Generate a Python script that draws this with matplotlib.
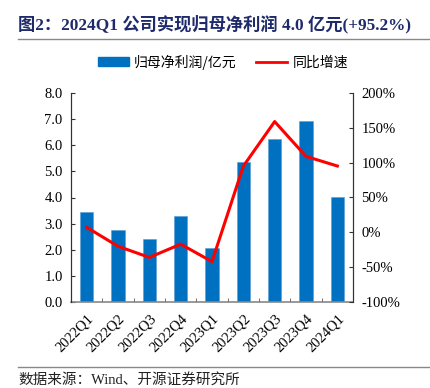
import matplotlib
matplotlib.use("Agg")
import matplotlib.pyplot as plt
from matplotlib.lines import Line2D
from matplotlib.patches import Patch
from matplotlib.ticker import FuncFormatter, MultipleLocator

plt.rcParams["font.family"] = ["Liberation Serif", "Noto Sans CJK SC"]

quarters = ["2022Q1", "2022Q2", "2022Q3", "2022Q4", "2023Q1",
            "2023Q2", "2023Q3", "2023Q4", "2024Q1"]
profit = [3.45, 2.77, 2.40, 3.31, 2.07, 5.36, 6.23, 6.93, 4.01]   # 亿元
yoy = [7.2, -20.0, -36.0, -17.0, -42.0, 95.0, 159.0, 109.0, 95.2]  # %

BLUE = "#0070C0"
RED = "#FF0000"
NAVY = "#1F2A6B"

fig = plt.figure(figsize=(4.31, 3.88), dpi=100, facecolor="white")
ax = fig.add_axes([71 / 431, 1 - 302 / 388, (353 - 71) / 431, (302 - 93) / 388])
ax2 = ax.twinx()

x = list(range(len(quarters)))
ax.bar(x, profit, width=0.42, color=BLUE, edgecolor="#5B9BD5", linewidth=0.4, zorder=2)
ax2.plot(x, yoy, color=RED, linewidth=2.2, zorder=3)

ax.set_xlim(-0.5, len(quarters) - 0.5)
ax.set_ylim(0, 8)
ax2.set_ylim(-100, 200)
ax.yaxis.set_major_locator(MultipleLocator(1))
ax.yaxis.set_major_formatter(FuncFormatter(lambda v, p: f"{v:.1f}"))
ax2.yaxis.set_major_locator(MultipleLocator(50))
ax2.yaxis.set_major_formatter(FuncFormatter(lambda v, p: f"{v:.0f}%"))

ax.set_xticks(x)
ax.set_xticklabels(quarters, rotation=45, ha="right", rotation_mode="anchor", fontsize=10.5)
ax.set_xticks([i + 0.5 for i in x], minor=True)
ax.tick_params(axis="x", which="major", length=0, pad=7)
ax.tick_params(axis="x", which="minor", direction="in", length=3, color="#555555")
ax.tick_params(axis="y", direction="in", length=3, labelsize=10.5, color="#333333", pad=6)
ax2.tick_params(axis="y", direction="in", length=3, labelsize=10.5, color="#333333", pad=6)

for a in (ax, ax2):
    a.spines["top"].set_visible(False)
    a.spines["left"].set_color("#333333")
    a.spines["right"].set_color("#333333")
    a.spines["left"].set_linewidth(0.8)
    a.spines["right"].set_linewidth(0.8)
ax.spines["bottom"].set_color("#888888")
ax.spines["bottom"].set_linewidth(1.2)
ax2.spines["bottom"].set_visible(False)

handles = [Patch(facecolor=BLUE, edgecolor=BLUE, label="归母净利润/亿元"),
           Line2D([], [], color=RED, linewidth=2, label="同比增速")]
fig.legend(handles=handles, loc="center", bbox_to_anchor=(223 / 431, 1 - 62 / 388), ncol=2,
           frameon=False, handlelength=2.2, handleheight=0.6,
           columnspacing=1.4, handletextpad=0.4,
           prop={"family": ["Noto Sans CJK SC"], "size": 10})

fig.text(18 / 431, 1 - 24 / 388, "图2：2024Q1 公司实现归母净利润 4.0 亿元(+95.2%)",
         fontsize=12.4, fontweight="bold", color=NAVY, va="center", ha="left")
fig.add_artist(Line2D([18 / 431, 1], [1 - 38.5 / 388] * 2, color="#888888", linewidth=1))
fig.add_artist(Line2D([18 / 431, 1], [1 - 367 / 388] * 2, color="#888888", linewidth=1))
fig.text(18 / 431, 1 - 380 / 388, "数据来源：Wind、开源证券研究所",
         fontsize=10.5, color="#222222", va="center", ha="left")

fig.savefig("out.png", dpi=100, facecolor="white")
